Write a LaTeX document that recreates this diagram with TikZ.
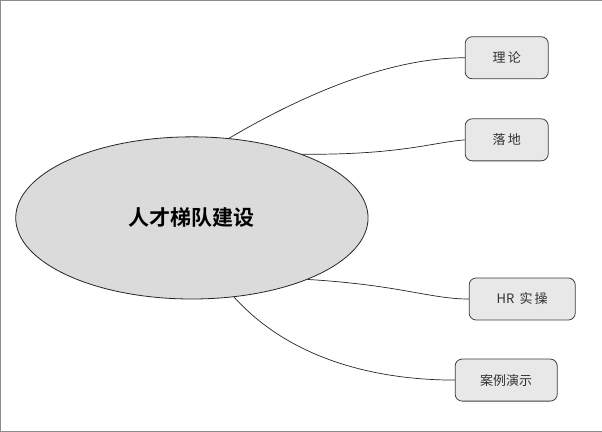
\documentclass[tikz,border=0pt]{standalone}
\usepackage{fontspec}
\usetikzlibrary{shapes.geometric}
\newfontfamily\cjk{Noto Sans CJK SC}
\newfontfamily\cjkb{Noto Sans CJK SC Bold}
\begin{document}
\begin{tikzpicture}[x=1pt,y=-1pt,
  leaf/.style={draw=black!75,fill=black!9,rounded corners=7pt,line width=0.8pt,minimum height=42pt,font=\cjk\fontsize{13}{15}\selectfont,text=black!80},
  link/.style={draw=black!85,line width=0.7pt}]
\draw[black!45,fill=white] (0.5,0.5) rectangle (601.5,431.5);
\node[ellipse,draw=black!85,fill=black!14,line width=0.8pt,minimum width=352pt,minimum height=162pt,inner sep=0pt,
  font=\cjkb\fontsize{21}{24}\selectfont] (c) at (192,218) {人才梯队建设};
\node[leaf,minimum width=83pt] (a) at (506.5,58) {理\,论};
\node[leaf,minimum width=83pt] (b) at (506.5,140) {落\,地};
\node[leaf,minimum width=106pt] (d) at (522,299) {HR\, 实\,操};
\node[leaf,minimum width=102pt] (e) at (506,380) {案例演示};
\draw[link] (c.65) .. controls (320,85) and (400,58) .. (a.west);
\draw[link] (c.30) .. controls (400,155) and (430,143) .. (b.west);
\draw[link] (c.-28) .. controls (400,285) and (430,299) .. (d.west);
\draw[link] (c.-62) .. controls (300,370) and (400,380) .. (e.west);
\end{tikzpicture}
\end{document}
